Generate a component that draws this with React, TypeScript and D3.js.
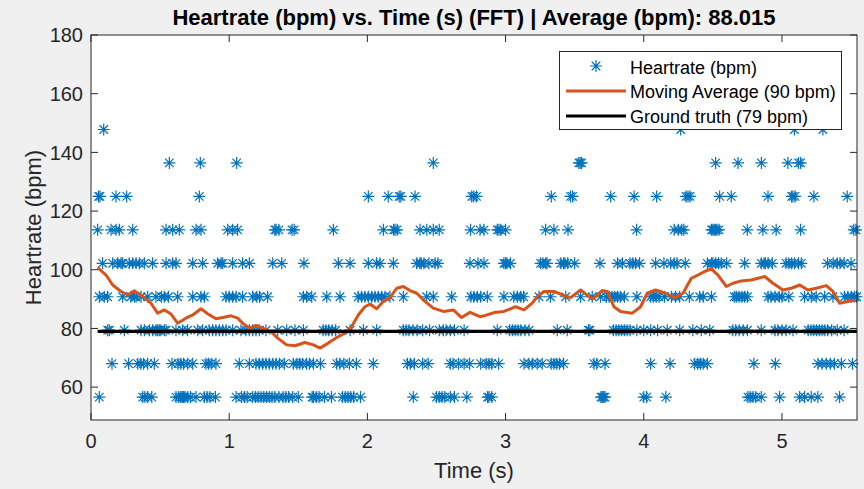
import React from 'react';
import * as d3 from 'd3';

// Heart-rate levels (bpm) produced by the FFT bins
const hrLevels = [56.6, 68.0, 79.4, 90.8, 102.2, 113.6, 125.0, 136.4, 147.8];

// Times (s) at which each level was detected
const t57 = [0.06, 0.374, 0.39, 0.41, 0.44, 0.615, 0.635, 0.65, 0.66, 0.67, 0.68, 0.7, 0.72, 0.76, 0.82, 0.84, 0.86, 0.9, 1.05, 1.09, 1.11, 1.13, 1.17, 1.19, 1.21, 1.23, 1.25, 1.27, 1.29, 1.31, 1.33, 1.36, 1.39, 1.41, 1.43, 1.46, 1.5, 1.6, 1.61, 1.63, 1.65, 1.69, 1.74, 1.82, 1.84, 1.86, 1.88, 1.9, 1.95, 2.332, 2.5, 2.52, 2.54, 2.56, 2.6, 2.63, 2.72, 2.87, 2.88, 2.9, 3.69, 3.7, 3.71, 3.72, 4.0, 4.02, 4.16, 4.754, 4.77, 4.79, 4.81, 4.85, 4.983, 5.128, 5.164, 5.212, 5.26, 5.417];
const t68 = [0.152, 0.272, 0.338, 0.36, 0.38, 0.41, 0.458, 0.586, 0.63, 0.65, 0.67, 0.7, 0.736, 0.832, 0.85, 0.87, 0.904, 1.073, 1.146, 1.194, 1.218, 1.242, 1.266, 1.29, 1.315, 1.339, 1.363, 1.399, 1.464, 1.49, 1.51, 1.53, 1.56, 1.58, 1.61, 1.66, 1.778, 1.8, 1.83, 1.87, 1.92, 2.043, 2.29, 2.31, 2.34, 2.4, 2.44, 2.6, 2.62, 2.66, 2.7, 2.74, 2.82, 2.86, 2.88, 2.9, 2.95, 3.133, 3.169, 3.193, 3.229, 3.265, 3.33, 3.35, 3.37, 3.39, 3.42, 3.64, 3.66, 3.72, 4.05, 4.19, 4.368, 4.39, 4.41, 4.43, 4.46, 4.797, 4.952, 5.261, 5.29, 5.32, 5.35, 5.38, 5.43, 5.51];
const t79 = [0.121, 0.133, 0.241, 0.362, 0.386, 0.422, 0.446, 0.47, 0.482, 0.494, 0.506, 0.531, 0.543, 0.615, 0.663, 0.699, 0.772, 0.808, 0.856, 0.88, 0.904, 0.929, 0.953, 0.977, 1.025, 1.085, 1.121, 1.146, 1.17, 1.194, 1.218, 1.266, 1.351, 1.416, 1.476, 1.537, 1.68, 1.7, 1.72, 1.745, 1.77, 1.875, 1.971, 2.067, 2.26, 2.28, 2.3, 2.33, 2.36, 2.4, 2.45, 2.52, 2.55, 2.57, 2.6, 2.63, 2.7, 2.94, 3.03, 3.05, 3.07, 3.09, 3.11, 3.14, 3.17, 3.374, 3.446, 3.6, 3.61, 3.78, 3.8, 3.82, 3.84, 3.86, 3.88, 3.9, 3.95, 4.0, 4.05, 4.1, 4.17, 4.26, 4.355, 4.416, 4.477, 4.645, 4.665, 4.69, 4.72, 4.75, 4.85, 4.95, 4.97, 5.0, 5.03, 5.08, 5.19, 5.21, 5.23, 5.25, 5.27, 5.29, 5.31, 5.33, 5.36, 5.4, 5.45];
const t91 = [0.06, 0.096, 0.12, 0.229, 0.289, 0.314, 0.326, 0.362, 0.41, 0.47, 0.51, 0.53, 0.56, 0.627, 0.736, 0.796, 0.82, 0.977, 1.0, 1.025, 1.05, 1.097, 1.17, 1.2, 1.22, 1.278, 1.537, 1.561, 1.597, 1.706, 1.802, 1.934, 1.958, 1.982, 2.007, 2.031, 2.055, 2.079, 2.103, 2.127, 2.163, 2.26, 2.429, 2.477, 2.61, 2.749, 2.77, 2.795, 2.82, 2.868, 2.988, 3.06, 3.085, 3.11, 3.13, 3.242, 3.325, 3.435, 3.543, 3.627, 3.688, 3.73, 3.75, 3.77, 3.79, 3.81, 3.83, 3.86, 3.95, 4.05, 4.07, 4.09, 4.11, 4.15, 4.2, 4.23, 4.26, 4.33, 4.405, 4.43, 4.49, 4.655, 4.67, 4.69, 4.71, 4.73, 4.75, 4.9, 4.92, 4.95, 4.98, 5.0, 5.05, 5.164, 5.212, 5.248, 5.309, 5.369, 5.453, 5.477, 5.502, 5.525, 5.54];
const t102 = [0.084, 0.157, 0.193, 0.217, 0.229, 0.277, 0.302, 0.326, 0.35, 0.386, 0.446, 0.543, 0.591, 0.615, 0.736, 0.808, 0.917, 0.941, 0.953, 1.025, 1.097, 1.146, 1.315, 1.38, 1.541, 1.79, 1.874, 2.007, 2.067, 2.091, 2.188, 2.357, 2.38, 2.39, 2.41, 2.445, 2.49, 2.51, 2.742, 2.8, 2.844, 2.988, 3.0, 3.01, 3.035, 3.254, 3.27, 3.29, 3.3, 3.4, 3.42, 3.43, 3.45, 3.5, 3.683, 3.81, 3.846, 3.9, 3.92, 3.94, 3.97, 4.086, 4.146, 4.194, 4.22, 4.24, 4.3, 4.46, 4.49, 4.5, 4.52, 4.54, 4.56, 4.6, 4.73, 4.85, 4.87, 4.88, 4.9, 4.93, 5.03, 5.05, 5.07, 5.09, 5.12, 5.14, 5.33, 5.37, 5.4, 5.42, 5.45, 5.5];
const t114 = [0.048, 0.145, 0.181, 0.205, 0.302, 0.543, 0.591, 0.639, 0.76, 0.796, 0.989, 1.025, 1.061, 1.33, 1.34, 1.36, 1.455, 1.47, 1.754, 2.116, 2.19, 2.2, 2.215, 2.381, 2.43, 2.477, 2.52, 2.747, 2.815, 2.844, 2.94, 2.952, 2.965, 3.0, 3.29, 3.35, 3.452, 3.948, 4.22, 4.25, 4.275, 4.29, 4.49, 4.5, 4.51, 4.52, 4.53, 4.545, 4.749, 4.862, 4.958, 5.135, 5.52, 5.535];
const t125 = [0.055, 0.065, 0.181, 0.258, 0.784, 2.007, 2.151, 2.23, 2.242, 2.345, 2.755, 2.77, 2.79, 3.331, 3.47, 3.485, 3.761, 3.93, 4.093, 4.305, 4.32, 4.335, 4.549, 4.633, 4.899, 5.07, 5.08, 5.095, 5.231, 5.472];
const t136 = [0.567, 0.791, 1.054, 2.477, 3.53, 3.54, 3.55, 4.52, 4.682, 4.851, 5.043, 5.12, 5.135];
const t148 = [0.092, 4.267, 5.09, 5.296];

// Moving average (bpm) over time (s)
const maTime = [0.048, 0.109, 0.157, 0.217, 0.265, 0.314, 0.374, 0.434, 0.482, 0.531, 0.579, 0.627, 0.687, 0.736, 0.796, 0.844, 0.904, 0.953, 1.013, 1.061, 1.097, 1.146, 1.194, 1.242, 1.302, 1.351, 1.416, 1.476, 1.548, 1.609, 1.657, 1.717, 1.778, 1.838, 1.886, 1.934, 1.982, 2.019, 2.067, 2.115, 2.164, 2.212, 2.26, 2.308, 2.357, 2.417, 2.477, 2.549, 2.622, 2.682, 2.743, 2.815, 2.844, 2.916, 2.988, 3.073, 3.133, 3.193, 3.23, 3.278, 3.35, 3.41, 3.471, 3.543, 3.627, 3.699, 3.736, 3.784, 3.832, 3.917, 3.977, 4.025, 4.086, 4.158, 4.223, 4.284, 4.344, 4.392, 4.44, 4.489, 4.537, 4.597, 4.645, 4.706, 4.778, 4.827, 4.875, 4.935, 5.007, 5.068, 5.128, 5.188, 5.248, 5.321, 5.369, 5.417, 5.477, 5.538];
const maBpm = [100.7, 98.2, 94.8, 92.6, 91.4, 92.8, 90.9, 88.6, 85.2, 86.3, 84.9, 81.8, 83.5, 84.6, 86.7, 85.0, 83.3, 83.7, 84.3, 83.5, 81.8, 80.1, 81.0, 80.1, 78.9, 76.7, 74.4, 74.1, 75.2, 74.4, 73.3, 75.0, 76.9, 78.4, 80.6, 84.6, 87.4, 88.3, 86.7, 89.2, 90.5, 93.7, 94.3, 92.9, 92.0, 89.2, 86.9, 85.8, 86.3, 83.7, 85.5, 84.0, 84.3, 85.4, 85.8, 87.4, 86.3, 88.6, 90.9, 92.6, 92.6, 91.4, 90.5, 93.1, 90.0, 92.9, 92.6, 87.4, 85.8, 85.2, 87.4, 92.0, 93.1, 92.0, 90.5, 92.0, 97.1, 98.2, 99.4, 100.3, 98.2, 94.3, 95.4, 96.2, 96.5, 97.1, 97.7, 95.4, 93.1, 93.7, 94.8, 93.1, 93.7, 94.6, 92.6, 88.6, 89.2, 89.7];

const groundTruth = 79;
const gtTimes = [0.048, 5.543];

const xTicks = [0, 1, 2, 3, 4, 5];
const yTicks = [60, 80, 100, 120, 140, 160, 180];
const legendLabels = ['Heartrate (bpm)', 'Moving Average (90 bpm)', 'Ground truth (79 bpm)'];
const titleText = 'Heartrate (bpm) vs. Time (s) (FFT) | Average (bpm): 88.015';

const BLUE = '#0072BD';
const ORANGE = '#D95319';
const AX = '#262626';
const FONT = '"Liberation Sans", Arial, Helvetica, sans-serif';

function asteriskPath(r: number) {
  const k = r * 0.7071;
  return `M${-r},0L${r},0M0,${-r}L0,${r}M${-k},${-k}L${k},${k}M${-k},${k}L${k},${-k}`;
}

export default function App() {
  const W = 864, H = 489;
  const left = 91, right = 857, top = 35, bottom = 420;
  const x = d3.scaleLinear().domain([0, 5.543]).range([left, right]);
  const y = d3.scaleLinear().domain([48.8, 180]).range([bottom, top]);

  const rows = [t57, t68, t79, t91, t102, t114, t125, t136, t148];
  const points: { t: number; v: number }[] = [];
  rows.forEach((ts, i) => ts.forEach((t) => points.push({ t, v: hrLevels[i] })));

  const ma = maTime.map((t, i) => [t, maBpm[i]] as [number, number]);
  const line = d3.line<[number, number]>().x((d) => x(d[0])).y((d) => y(d[1]));
  const gt = gtTimes.map((t) => [t, groundTruth] as [number, number]);

  const star = asteriskPath(6);
  const tickLen = 7;

  const lgX = 559.5, lgY = 51.5, lgW = 282, lgH = 78;
  const rowY = [66, 91, 116];
  const textY = [74, 98, 122.5];

  return (
    <svg width={W} height={H} style={{ position: 'absolute', left: 0, top: 0 }} fontFamily={FONT}>
      <rect x={0} y={0} width={W} height={H} fill="#f0f0f0" />
      <rect x={left} y={top} width={right - left} height={bottom - top} fill="#ffffff" />

      {/* scatter */}
      <g stroke={BLUE} strokeWidth={1.2} fill="none">
        {points.map((p, i) => (
          <path key={i} d={star} transform={`translate(${x(p.t)},${y(p.v)})`} />
        ))}
      </g>

      {/* moving average */}
      <path d={line(ma) || ''} fill="none" stroke={ORANGE} strokeWidth={3} strokeLinejoin="round" />
      {/* ground truth */}
      <path d={line(gt) || ''} fill="none" stroke="#000" strokeWidth={3.2} />

      {/* axes box */}
      <rect x={left} y={top} width={right - left} height={bottom - top} fill="none" stroke={AX} strokeWidth={1} />
      <g stroke={AX} strokeWidth={1}>
        {xTicks.map((t) => (
          <g key={'xt' + t}>
            <line x1={x(t)} x2={x(t)} y1={bottom} y2={bottom - tickLen} />
            <line x1={x(t)} x2={x(t)} y1={top} y2={top + tickLen} />
          </g>
        ))}
        {yTicks.map((v) => (
          <g key={'yt' + v}>
            <line x1={left} x2={left + tickLen} y1={y(v)} y2={y(v)} />
            <line x1={right} x2={right - tickLen} y1={y(v)} y2={y(v)} />
          </g>
        ))}
      </g>
      <g fill={AX} fontSize={20}>
        {xTicks.map((t) => (
          <text key={'xl' + t} x={x(t)} y={448} textAnchor="middle">{t}</text>
        ))}
        {yTicks.map((v) => (
          <text key={'yl' + v} x={83} y={y(v)} dy="0.36em" textAnchor="end">{v}</text>
        ))}
      </g>
      <text x={(left + right) / 2} y={478} textAnchor="middle" fontSize={22} fill={AX}>Time (s)</text>
      <text transform={`translate(41,${(top + bottom) / 2}) rotate(-90)`} textAnchor="middle" fontSize={22} fill={AX}>Heartrate (bpm)</text>
      <text x={(left + right) / 2} y={25} textAnchor="middle" fontSize={22} fontWeight="bold" fill="#000">{titleText}</text>

      {/* legend */}
      <rect x={lgX} y={lgY} width={lgW} height={lgH} fill="#fff" stroke={AX} strokeWidth={1} />
      <path d={star} transform={`translate(596,${rowY[0]})`} stroke={BLUE} strokeWidth={1.2} fill="none" />
      <line x1={566} x2={626} y1={rowY[1]} y2={rowY[1]} stroke={ORANGE} strokeWidth={3} />
      <line x1={566} x2={626} y1={rowY[2]} y2={rowY[2]} stroke="#000" strokeWidth={3.2} />
      <g fontSize={18} fill="#000">
        {legendLabels.map((s, i) => (
          <text key={s} x={630} y={textY[i]}>{s}</text>
        ))}
      </g>
    </svg>
  );
}
